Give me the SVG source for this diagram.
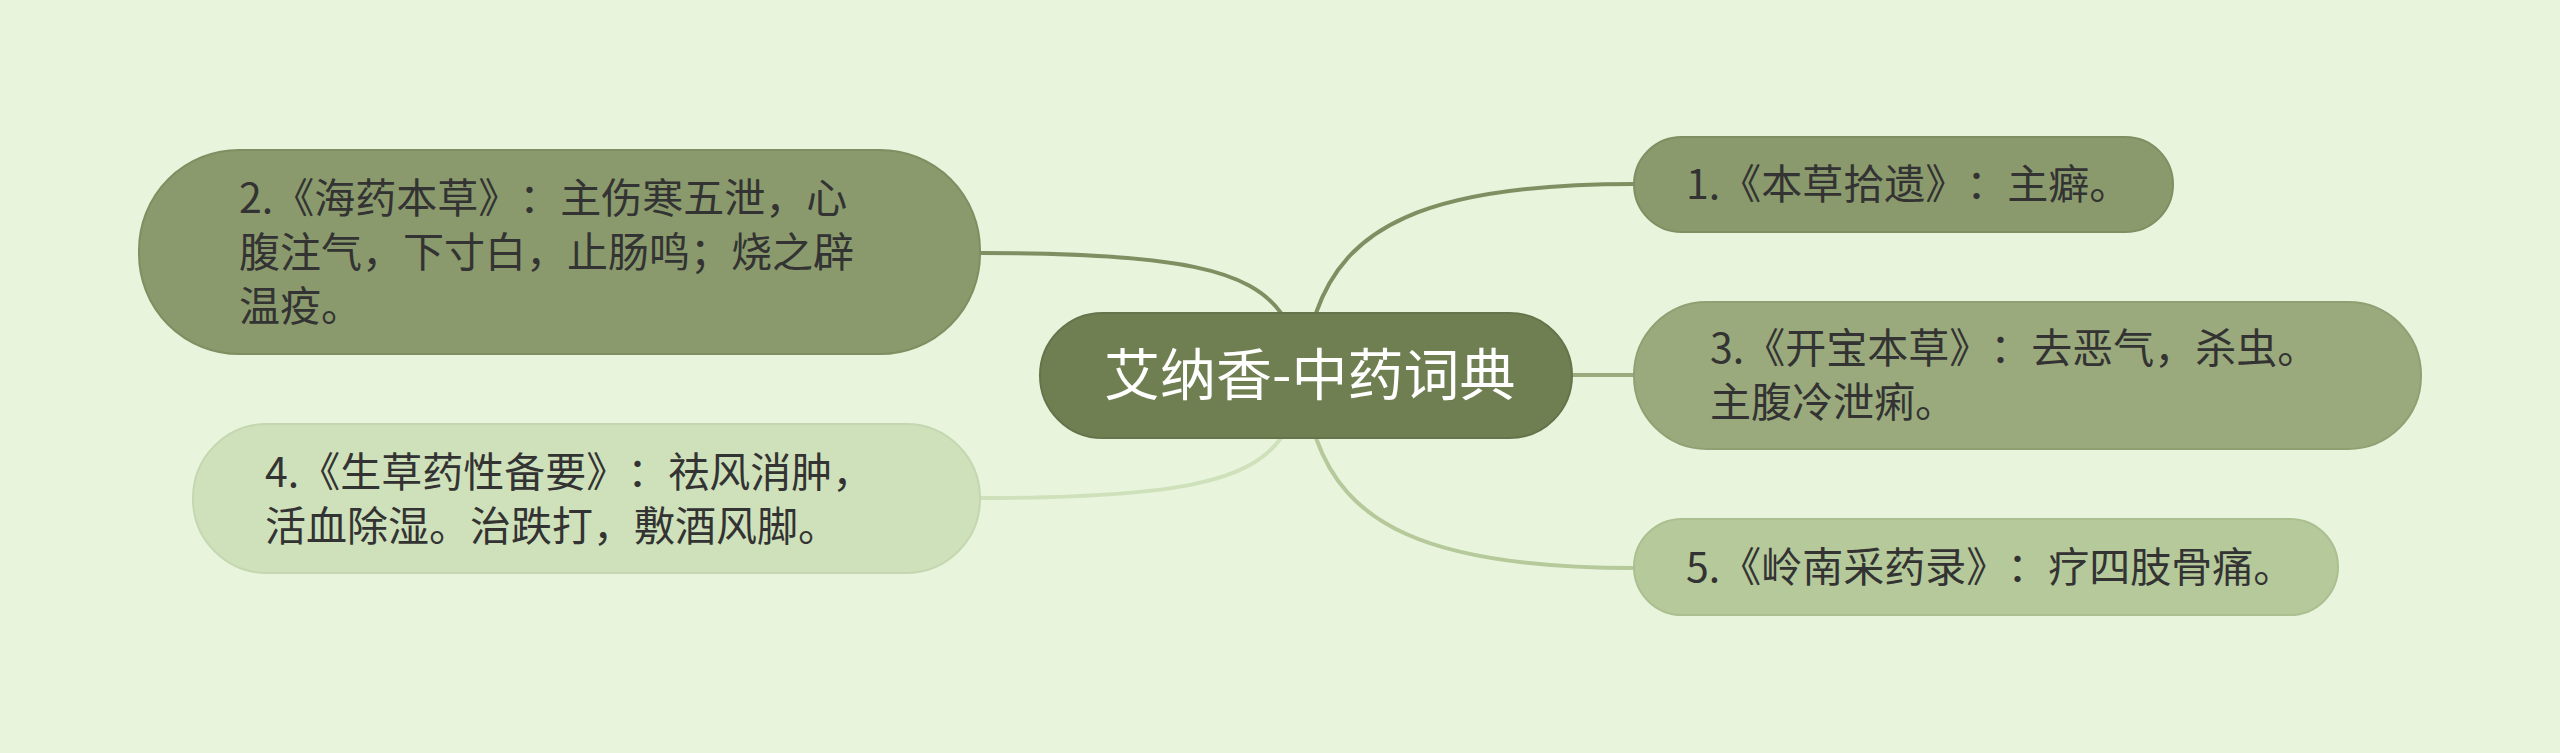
<svg xmlns="http://www.w3.org/2000/svg" width="2560" height="753" viewBox="0 0 2560 753">
<style>
text{text-spacing-trim:space-all}
.t{font-family:"Noto Sans CJK SC","Noto Sans",sans-serif;font-size:41px;fill:#333333}
.c{fill:none;stroke-width:4}
</style>
<rect width="2560" height="753" fill="#e8f4dc"/>
<g id="connectors">
<path class="c" stroke="#7f8f62" d="M980,253 C1180,253 1250,270 1281,313"/>
<path class="c" stroke="#7f8f62" d="M1316,313 C1345,230 1420,184 1634,184"/>
<path class="c" stroke="#9aaa7c" d="M1572,375 L1634,375"/>
<path class="c" stroke="#b5c99a" d="M1316,438 C1345,520 1420,568 1634,568"/>
<path class="c" stroke="#cfe1ba" d="M980,498 C1180,498 1250,481 1281,438"/>
</g>
<g id="center">
<rect x="1040" y="313" width="532" height="125" rx="62.5" fill="#6f7f51" stroke="#65744a" stroke-width="2"/>
<text x="1104" y="395" font-family="Noto Sans CJK SC,sans-serif" font-size="56" fill="#ffffff">艾纳香-中药词典</text>
</g>
<g id="n1">
<rect x="1634" y="137" width="539" height="95" rx="47.5" fill="#8a9a6c" stroke="#7f8f62" stroke-width="2"/>
<text class="t" x="1686" y="199">1.《本草拾遗》：主癖。</text>
</g>
<g id="n2">
<rect x="139" y="150" width="841" height="204" rx="100" fill="#8a9a6c" stroke="#7f8f62" stroke-width="2"/>
<text class="t" x="239" y="213">2.《海药本草》：主伤寒五泄，心</text>
<text class="t" x="239" y="267">腹注气，下寸白，止肠鸣；烧之辟</text>
<text class="t" x="239" y="321">温疫。</text>
</g>
<g id="n3">
<rect x="1634" y="302" width="787" height="147" rx="73" fill="#9aaa7c" stroke="#90a072" stroke-width="2"/>
<text class="t" x="1710" y="363">3.《开宝本草》：去恶气，杀虫。</text>
<text class="t" x="1710" y="417">主腹冷泄痢。</text>
</g>
<g id="n4">
<rect x="193" y="424" width="787" height="149" rx="74" fill="#cfe1ba" stroke="#c5d7b0" stroke-width="2"/>
<text class="t" x="265" y="487">4.《生草药性备要》：祛风消肿，</text>
<text class="t" x="265" y="541">活血除湿。治跌打，敷酒风脚。</text>
</g>
<g id="n5">
<rect x="1634" y="519" width="704" height="96" rx="48" fill="#b5c99a" stroke="#abbf90" stroke-width="2"/>
<text class="t" x="1686" y="582">5.《岭南采药录》：疗四肢骨痛。</text>
</g>
</svg>
